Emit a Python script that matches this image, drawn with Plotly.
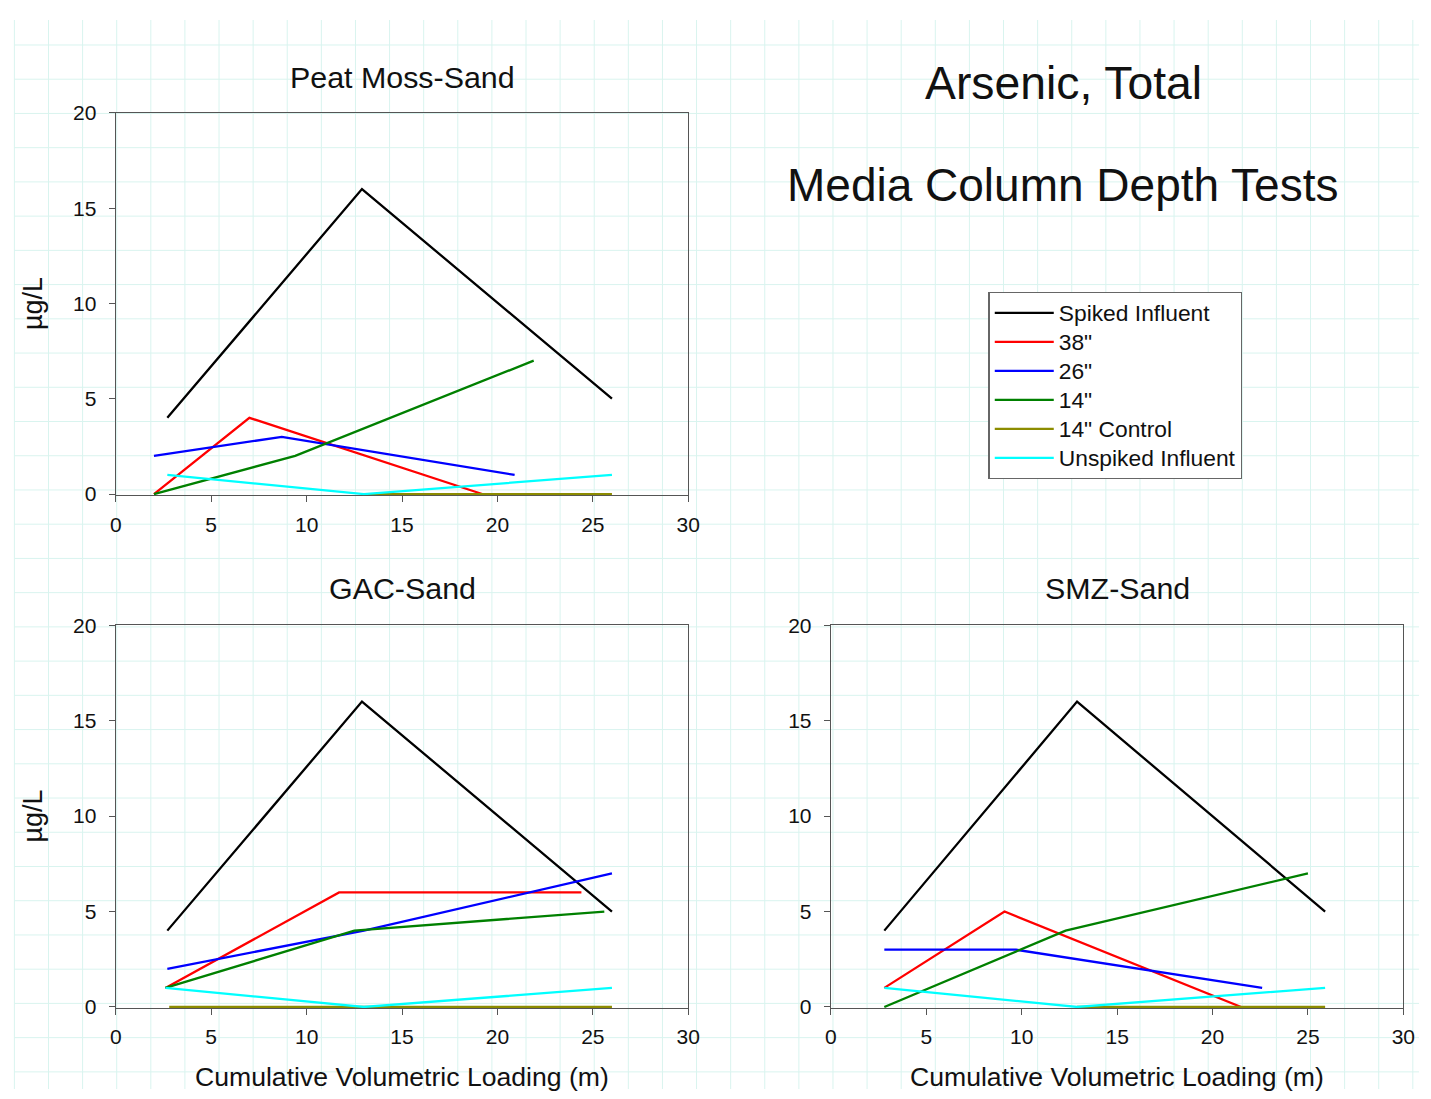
import plotly.graph_objects as go

# reference canvas and the page geometry used to place things
W, H = 1431, 1099
BODY = 8                      # default page margin around the figure
FW, FH = W - BODY, H - BODY   # figure size in px
SX, OX = 0.99, 5.0            # observed photo mapping (x)
SY, OY = 0.979, 11.4          # observed photo mapping (y)
FONT = "Liberation Sans, Arial, sans-serif"

series_names = ["Spiked Influent", '38"', '26"', '14"', '14" Control', "Unspiked Influent"]
series_colors = ["#000000", "#ff0000", "#0000ff", "#008000", "#8c8c00", "#00ffff"]

# Peat Moss-Sand
peat_spiked_x = [2.7, 12.9, 26.0]; peat_spiked_y = [4, 16, 5]
peat_38_x = [2.0, 7.0, 19.2];      peat_38_y = [0, 4, 0]
peat_26_x = [2.0, 8.7, 20.9];      peat_26_y = [2, 3, 1]
peat_14_x = [2.0, 9.4, 21.9];      peat_14_y = [0, 2, 7]
peat_ctrl_x = [12.9, 26.0];        peat_ctrl_y = [0, 0]
peat_unsp_x = [2.7, 13.0, 26.0];   peat_unsp_y = [1, 0, 1]

# GAC-Sand
gac_spiked_x = [2.7, 12.9, 26.0];  gac_spiked_y = [4, 16, 5]
gac_38_x = [2.6, 11.7, 24.4];      gac_38_y = [1, 6, 6]
gac_26_x = [2.7, 13.0, 26.0];      gac_26_y = [2, 4, 7]
gac_14_x = [2.6, 12.5, 25.6];      gac_14_y = [1, 4, 5]
gac_ctrl_x = [2.8, 12.9, 26.0];    gac_ctrl_y = [0, 0, 0]
gac_unsp_x = [2.6, 13.0, 26.0];    gac_unsp_y = [1, 0, 1]

# SMZ-Sand
smz_spiked_x = [2.8, 12.9, 25.9];  smz_spiked_y = [4, 16, 5]
smz_38_x = [2.8, 9.1, 21.5];       smz_38_y = [1, 5, 0]
smz_26_x = [2.8, 9.7, 22.6];       smz_26_y = [3, 3, 1]
smz_14_x = [2.8, 12.3, 25.0];      smz_14_y = [0, 4, 7]
smz_ctrl_x = [12.9, 25.9];         smz_ctrl_y = [0, 0]
smz_unsp_x = [2.8, 12.9, 25.9];    smz_unsp_y = [1, 0, 1]

x_ticks = [0, 5, 10, 15, 20, 25, 30]
y_ticks = [0, 5, 10, 15, 20]

panels = [
    ("x", "y", [
        (peat_spiked_x, peat_spiked_y), (peat_38_x, peat_38_y), (peat_26_x, peat_26_y),
        (peat_14_x, peat_14_y), (peat_ctrl_x, peat_ctrl_y), (peat_unsp_x, peat_unsp_y)]),
    ("x2", "y2", [
        (gac_spiked_x, gac_spiked_y), (gac_38_x, gac_38_y), (gac_26_x, gac_26_y),
        (gac_14_x, gac_14_y), (gac_ctrl_x, gac_ctrl_y), (gac_unsp_x, gac_unsp_y)]),
    ("x3", "y3", [
        (smz_spiked_x, smz_spiked_y), (smz_38_x, smz_38_y), (smz_26_x, smz_26_y),
        (smz_14_x, smz_14_y), (smz_ctrl_x, smz_ctrl_y), (smz_unsp_x, smz_unsp_y)]),
]

LEGEND_TEXT_PX = 22.8
fig = go.Figure()
for pi, (xa, ya, data) in enumerate(panels):
    for si, (xs, ys) in enumerate(data):
        fig.add_trace(go.Scatter(
            x=xs, y=ys, mode="lines", xaxis=xa, yaxis=ya,
            name=f'<span style="font-size:{LEGEND_TEXT_PX}px">{series_names[si]}</span>',
            legendgroup=series_names[si],
            showlegend=(pi == 0),
            line=dict(color=series_colors[si], width=2.3),
            hoverinfo="skip"))

def fx(r):
    """reference x pixel -> figure px"""
    return (r - OX) / SX - BODY

def fy(r):
    return (r - OY) / SY - BODY

def px2x(r):
    return fx(r) / FW

def px2y(r):
    return 1 - fy(r) / FH

x_left = [px2x(115), px2x(689)]
x_right = [px2x(832), px2x(1406)]
y_top = [px2y(494), px2y(112)]
y_bot = [px2y(1006.5), px2y(624)]

axis_common = dict(
    showgrid=False, zeroline=False, showline=True, mirror=True,
    linecolor="#555555", linewidth=1.3, ticks="outside", ticklen=6,
    tickcolor="#555555", tickwidth=1.3,
    tickfont=dict(family=FONT, size=21, color="#111111"),
    layer="below traces", fixedrange=True)

xaxis_kw = dict(axis_common, range=[0, 30], tickmode="array", tickvals=x_ticks,
                ticklabelstandoff=4)
yaxis_kw = dict(axis_common, range=[-0.06, 20], tickmode="array", tickvals=y_ticks,
                ticklabelstandoff=8)

fig.update_layout(
    xaxis=dict(xaxis_kw, domain=x_left, anchor="y"),
    yaxis=dict(yaxis_kw, domain=y_top, anchor="x"),
    xaxis2=dict(xaxis_kw, domain=x_left, anchor="y2"),
    yaxis2=dict(yaxis_kw, domain=y_bot, anchor="x2"),
    xaxis3=dict(xaxis_kw, domain=x_right, anchor="y3"),
    yaxis3=dict(yaxis_kw, domain=y_bot, anchor="x3"),
)

# graph-paper background
shapes = []
grid_color = "#d9f4ef"
step = 34.2
y_lo = min(max(px2y(10), 0), 1)
gx = 13.3
while gx <= W:
    if 0 <= px2x(gx) <= 1:
        shapes.append(dict(type="line", xref="paper", yref="paper", layer="below",
                           x0=px2x(gx), x1=px2x(gx), y0=y_lo, y1=0,
                           line=dict(color=grid_color, width=1)))
    gx += step
gy = 10.0
while gy <= H:
    if 0 <= px2y(gy) <= 1:
        shapes.append(dict(type="line", xref="paper", yref="paper", layer="below",
                           x0=max(px2x(13.3), 0), x1=1, y0=px2y(gy), y1=px2y(gy),
                           line=dict(color=grid_color, width=1)))
    gy += step

annotations = []
def ann(text, xp, yp, size, angle=0, ymax=None):
    ypx = fy(yp)
    if ymax is not None:
        ypx = min(ypx, ymax)
    annotations.append(dict(text=text, x=px2x(xp), y=1 - ypx / FH, xref="paper", yref="paper",
                            showarrow=False, xanchor="center", yanchor="middle",
                            textangle=angle,
                            font=dict(family=FONT, size=size, color="#111111")))

ann("Peat Moss-Sand", 402, 76, 30.4)
ann("GAC-Sand", 402, 587, 30.4)
ann("SMZ-Sand", 1119, 587, 30.4)
ann("Arsenic, Total", 1065, 82, 46.3)
ann("Media Column Depth Tests", 1064, 184, 46.0)
ann("Cumulative Volumetric Loading (m)", 402, 1081, 26.6, ymax=FH - 12)
ann("Cumulative Volumetric Loading (m)", 1119, 1081, 26.6, ymax=FH - 12)
ann("µg/L", 32, 303, 27, -90)
ann("µg/L", 32, 815, 27, -90)

fig.update_layout(
    width=FW, height=FH,
    margin=dict(l=0, r=0, t=0, b=0),
    paper_bgcolor="white", plot_bgcolor="white",
    shapes=shapes, annotations=annotations,
    showlegend=True,
    legend=dict(x=px2x(990), y=px2y(291), xanchor="left", yanchor="top",
                bgcolor="white", bordercolor="#666666", borderwidth=1.3,
                font=dict(family=FONT, size=20, color="#111111"),
                itemwidth=59, tracegroupgap=0),
    font=dict(family=FONT),
)

fig.write_html("out.html")
